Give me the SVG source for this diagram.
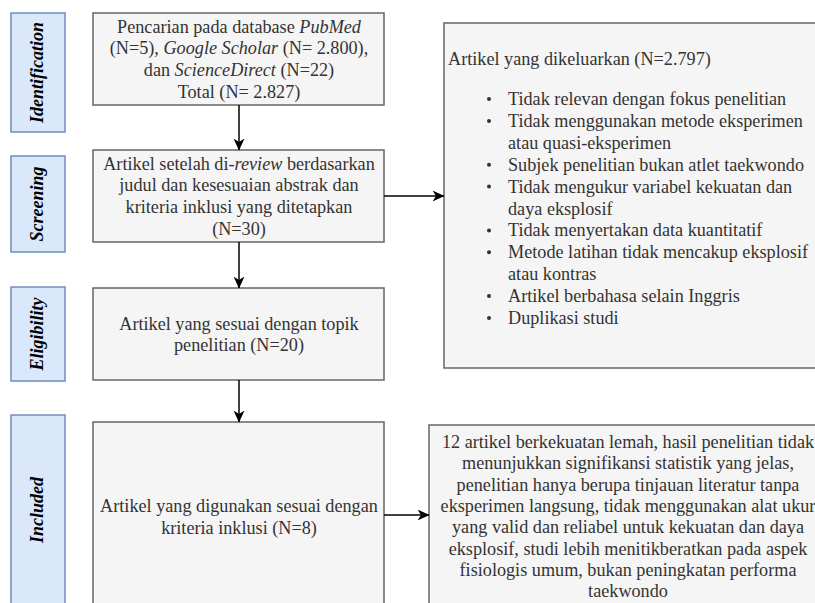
<svg xmlns="http://www.w3.org/2000/svg" width="815" height="603" viewBox="0 0 815 603">
<defs>
<style>
.lbl{fill:#dae8fc;stroke:#6c8ebf;stroke-width:1.5}
.box{fill:#f5f5f5;stroke:#666666;stroke-width:1.5}
.lt{font-family:'Liberation Serif','Times New Roman',Times,serif;font-size:18px;font-weight:bold;font-style:italic;fill:#000;text-anchor:middle}
.t{font-family:'Liberation Serif','Times New Roman',Times,serif;font-size:18.2px;fill:#333333}
.c{text-anchor:middle}
.i{font-style:italic}
.edge{stroke:#000;stroke-width:1.5;fill:none}
</style>
<marker id="ah" viewBox="0 0 12 11" refX="11.5" refY="5.5" markerWidth="12" markerHeight="11" orient="auto" markerUnits="userSpaceOnUse">
<path d="M0,0 L12,5.5 L0,11 L3.5,5.5 Z" fill="#000"/>
</marker>
</defs>
<rect width="815" height="603" fill="#ffffff"/>

<g id="label-identification">
<rect class="lbl" x="11" y="13" width="54" height="119"/>
<text class="lt" transform="translate(43,72.5) rotate(-90)">Identification</text>
</g>
<g id="label-screening">
<rect class="lbl" x="11" y="156" width="54" height="96"/>
<text class="lt" transform="translate(43,204) rotate(-90)">Screening</text>
</g>
<g id="label-eligibility">
<rect class="lbl" x="11" y="287" width="54" height="94"/>
<text class="lt" transform="translate(43,334) rotate(-90)">Eligibility</text>
</g>
<g id="label-included">
<rect class="lbl" x="11" y="415" width="54" height="200"/>
<text class="lt" transform="translate(43,510) rotate(-90)">Included</text>
</g>

<g id="box-identification">
<rect class="box" x="93" y="13" width="291" height="92"/>
<text class="t c" x="239" y="32.5">Pencarian pada database <tspan class="i">PubMed</tspan></text>
<text class="t c" x="239" y="54.3">(N=5), <tspan class="i">Google Scholar</tspan> (N= 2.800),</text>
<text class="t c" x="239" y="76.1">dan <tspan class="i">ScienceDirect</tspan> (N=22)</text>
<text class="t c" x="239" y="97.9">Total (N= 2.827)</text>
</g>

<g id="box-screening">
<rect class="box" x="93" y="150" width="291" height="92"/>
<text class="t c" x="239" y="169.5">Artikel setelah di-<tspan class="i">review</tspan> berdasarkan</text>
<text class="t c" x="239" y="191.3">judul dan kesesuaian abstrak dan</text>
<text class="t c" x="239" y="213.1">kriteria inklusi yang ditetapkan</text>
<text class="t c" x="239" y="234.9">(N=30)</text>
</g>

<g id="box-eligibility">
<rect class="box" x="93" y="288" width="291" height="92"/>
<text class="t c" x="239" y="329.5">Artikel yang sesuai dengan topik</text>
<text class="t c" x="239" y="351.3">penelitian (N=20)</text>
</g>

<g id="box-included">
<rect class="box" x="93" y="422" width="291" height="200"/>
<text class="t c" x="239" y="512">Artikel yang digunakan sesuai dengan</text>
<text class="t c" x="239" y="533.8">kriteria inklusi (N=8)</text>
</g>

<g id="box-excluded">
<rect class="box" x="444" y="23" width="390" height="345"/>
<text class="t" x="448" y="64.5">Artikel yang dikeluarkan (N=2.797)</text>
<g fill="#333333">
<circle cx="489" cy="99" r="2"/>
<circle cx="489" cy="120.9" r="2"/>
<circle cx="489" cy="164.7" r="2"/>
<circle cx="489" cy="186.6" r="2"/>
<circle cx="489" cy="230.4" r="2"/>
<circle cx="489" cy="252.3" r="2"/>
<circle cx="489" cy="296.1" r="2"/>
<circle cx="489" cy="318" r="2"/>
</g>
<text class="t" x="508" y="105">Tidak relevan dengan fokus penelitian</text>
<text class="t" x="508" y="126.9">Tidak menggunakan metode eksperimen</text>
<text class="t" x="508" y="148.8">atau quasi-eksperimen</text>
<text class="t" x="508" y="170.7">Subjek penelitian bukan atlet taekwondo</text>
<text class="t" x="508" y="192.6">Tidak mengukur variabel kekuatan dan</text>
<text class="t" x="508" y="214.5">daya eksplosif</text>
<text class="t" x="508" y="236.4">Tidak menyertakan data kuantitatif</text>
<text class="t" x="508" y="258.3">Metode latihan tidak mencakup eksplosif</text>
<text class="t" x="508" y="280.2">atau kontras</text>
<text class="t" x="508" y="302.1">Artikel berbahasa selain Inggris</text>
<text class="t" x="508" y="324">Duplikasi studi</text>
</g>

<g id="box-weak">
<rect class="box" x="429" y="425" width="398" height="200"/>
<text class="t c" x="628" y="448">12 artikel berkekuatan lemah, hasil penelitian tidak</text>
<text class="t c" x="628" y="469.3">menunjukkan signifikansi statistik yang jelas,</text>
<text class="t c" x="628" y="490.6">penelitian hanya berupa tinjauan literatur tanpa</text>
<text class="t c" x="628" y="511.9">eksperimen langsung, tidak menggunakan alat ukur</text>
<text class="t c" x="628" y="533.2">yang valid dan reliabel untuk kekuatan dan daya</text>
<text class="t c" x="628" y="554.5">eksplosif, studi lebih menitikberatkan pada aspek</text>
<text class="t c" x="628" y="575.8">fisiologis umum, bukan peningkatan performa</text>
<text class="t c" x="628" y="597.1">taekwondo</text>
</g>

<g id="connectors">
<line class="edge" x1="239" y1="105" x2="239" y2="150" marker-end="url(#ah)"/>
<line class="edge" x1="239" y1="242" x2="239" y2="288" marker-end="url(#ah)"/>
<line class="edge" x1="239" y1="380" x2="239" y2="422" marker-end="url(#ah)"/>
<line class="edge" x1="384" y1="196" x2="444" y2="196" marker-end="url(#ah)"/>
<line class="edge" x1="384" y1="515" x2="429" y2="515" marker-end="url(#ah)"/>
</g>
</svg>
